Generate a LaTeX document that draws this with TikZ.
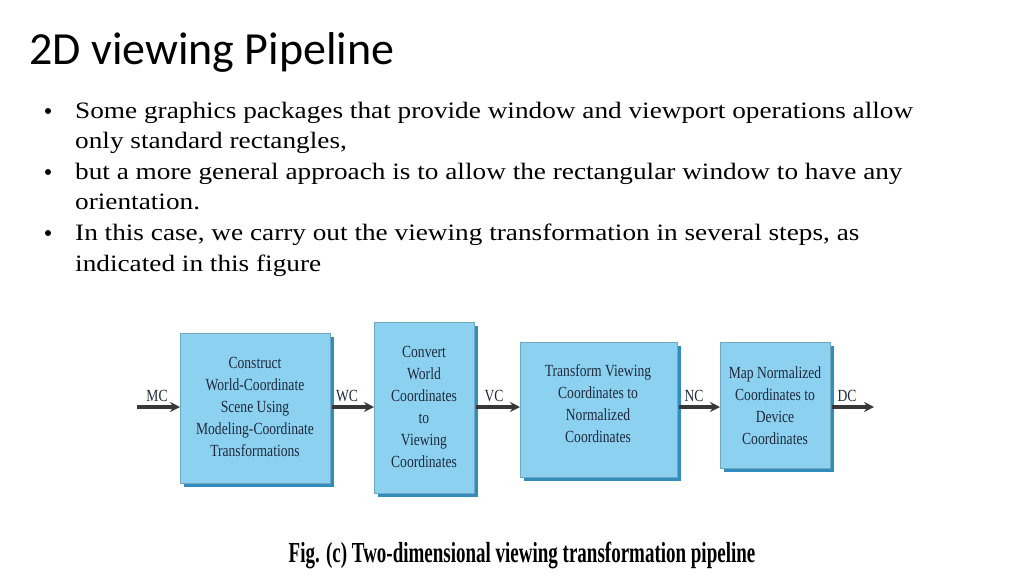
\documentclass[tikz,border=0pt]{standalone}
\usepackage{fontspec}
\setmainfont{Liberation Serif}
\newfontfamily\titlefont{Carlito}
\newfontfamily\bodyfont[FakeStretch=1.16]{Liberation Serif}
\newfontfamily\figfont[FakeStretch=0.8]{Liberation Serif}
\newfontfamily\capfont[FakeStretch=0.655]{Liberation Serif}
\usetikzlibrary{arrows.meta}
\definecolor{boxfill}{RGB}{140,210,240}
\definecolor{boxshade}{RGB}{50,140,190}
\definecolor{arrowcol}{RGB}{55,55,55}
\definecolor{figtext}{RGB}{30,40,60}
\begin{document}
\begin{tikzpicture}[x=1pt,y=-1pt,
  stagebox/.style={fill=boxfill, draw=boxfill!80!black, line width=0.5pt},
  stagetext/.style={font=\figfont\fontsize{17}{22}\selectfont, align=center, text=figtext},
  lbl/.style={font=\figfont\fontsize{17}{20}\selectfont, anchor=base, text=figtext},
  flow/.style={draw=arrowcol, line width=3.2pt, -{Stealth[length=10pt,width=10pt]}},
  line/.style={font=\bodyfont\fontsize{23.5}{28}\selectfont, anchor=base west, inner sep=0pt},
  dot/.style={circle, fill=black, inner sep=0pt, minimum size=6pt}
]
\useasboundingbox (0,0) rectangle (1024,576);
\fill[white] (0,0) rectangle (1024,576);

\node[font=\titlefont\fontsize{46}{48}\selectfont, anchor=base west, inner sep=0pt] (title) at (29,64) {2D viewing Pipeline};

\node[dot] (b1) at (48,111) {};
\node[line] (l1) at (75,118) {Some graphics packages that provide window and viewport operations allow};
\node[line] (l2) at (75,148.6) {only standard rectangles,};
\node[dot] (b2) at (48,172) {};
\node[line] (l3) at (75,179.2) {but a more general approach is to allow the rectangular window to have any};
\node[line] (l4) at (75,209.8) {orientation.};
\node[dot] (b3) at (48,233) {};
\node[line] (l5) at (75,240.4) {In this case, we carry out the viewing transformation in several steps, as};
\node[line] (l6) at (75,271) {indicated in this figure};

% shadows
\fill[boxshade] (184,337) rectangle (334,487);
\fill[boxshade] (378,326) rectangle (478,497);
\fill[boxshade] (524,346) rectangle (681,481);
\fill[boxshade] (724,346) rectangle (834,472);
% boxes
\draw[stagebox] (180,333) rectangle (330,483);
\draw[stagebox] (374,322) rectangle (474,493);
\draw[stagebox] (520,342) rectangle (677,477);
\draw[stagebox] (720,342) rectangle (830,468);

\node[stagetext] (s1) at (255,407) {Construct\\World-Coordinate\\Scene Using\\Modeling-Coordinate\\Transformations};
\node[stagetext] (s2) at (424,407) {Convert\\World\\Coordinates\\to\\Viewing\\Coordinates};
\node[stagetext] (s3) at (598,404) {Transform Viewing\\Coordinates to\\Normalized\\Coordinates};
\node[stagetext] (s4) at (775,406) {Map Normalized\\Coordinates to\\Device\\Coordinates};

\coordinate (in) at (137,407);
\coordinate (out) at (874,407);
\coordinate (e1) at (180,407);
\coordinate (x1) at (332,407);
\coordinate (e2) at (374,407);
\coordinate (x2) at (476,407);
\coordinate (e3) at (520,407);
\coordinate (x3) at (679,407);
\coordinate (e4) at (720,407);
\coordinate (x4) at (832,407);

\draw[flow] (in) -- (e1);
\draw[flow] (x1) -- (e2);
\draw[flow] (x2) -- (e3);
\draw[flow] (x3) -- (e4);
\draw[flow] (x4) -- (out);

\node[lbl] (mc) at (157,401) {MC};
\node[lbl] (wc) at (347,401) {WC};
\node[lbl] (vc) at (494,401) {VC};
\node[lbl] (nc) at (694,401) {NC};
\node[lbl] (dc) at (847,401) {DC};

\node[font=\capfont\bfseries\fontsize{29}{30}\selectfont, anchor=base] (cap) at (522,562) {Fig. (c) Two-dimensional viewing transformation pipeline};
\end{tikzpicture}
\end{document}
